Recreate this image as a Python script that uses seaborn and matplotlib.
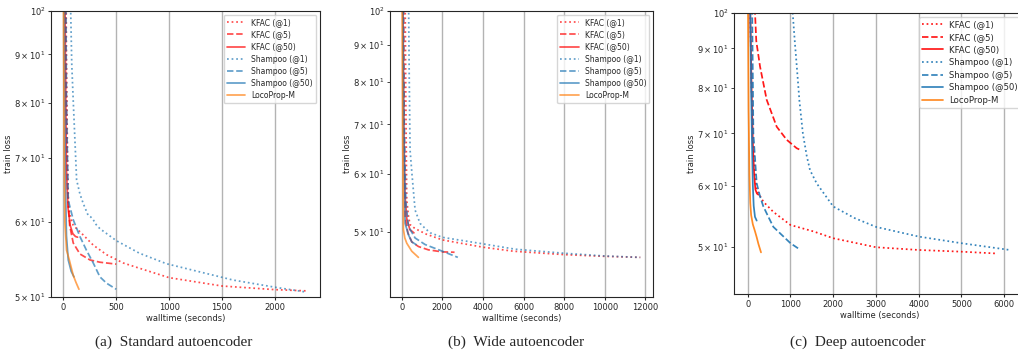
import seaborn as sns
import matplotlib.pyplot as plt

# legend labels, in the order they are drawn
LABELS = ["KFAC (@1)", "KFAC (@5)", "KFAC (@50)",
          "Shampoo (@1)", "Shampoo (@5)", "Shampoo (@50)", "LocoProp-M"]

# (a) standard autoencoder: walltime (s), train loss
std_kfac1_t = [22, 30, 40, 50, 70, 94, 189, 283, 409, 566, 722, 1000, 1500, 2000, 2300]
std_kfac1_l = [130, 90, 70, 62, 60.5, 59.5, 58.1, 56.7, 55.4, 54.3, 53.6, 52.4, 51.35, 50.9, 50.75]
std_kfac5_t = [15, 25, 40, 60, 94, 157, 252, 346, 500]
std_kfac5_l = [130, 85, 65, 59.5, 57.0, 55.5, 54.7, 54.4, 54.15]
std_kfac50_t = [10, 20, 30, 45, 65, 90, 115, 135]
std_kfac50_l = [130, 90, 68, 62, 59.5, 58.3, 57.9, 57.8]
std_sh1_t = [62, 70, 80, 94, 126, 157, 189, 236, 260, 283, 310, 346, 503, 719, 975, 1604, 2000, 2296]
std_sh1_l = [130, 100, 88, 80.5, 66.4, 64.2, 62.7, 60.9, 60.7, 60.3, 59.6, 59.0, 57.3, 55.6, 54.2, 52.1, 51.2, 50.6]
std_sh5_t = [20, 30, 47, 94, 157, 219, 283, 346, 409, 500]
std_sh5_l = [130, 80, 63.2, 60.3, 57.9, 56.0, 54.3, 52.5, 51.7, 50.95]
std_sh50_t = [5, 12, 20, 30, 47, 75, 101]
std_sh50_l = [130, 85, 66, 58, 54.7, 53.2, 52.5]
std_loco_t = [0, 3, 8, 15, 31, 57, 94, 120, 148]
std_loco_l = [140, 95, 72, 60, 56, 54.7, 52.7, 51.8, 50.95]

# (b) wide autoencoder
wide_kfac1_t = [150, 170, 200, 246, 330, 409, 600, 821, 1200, 2000, 4000, 5500, 8000, 10000, 11750]
wide_kfac1_l = [150, 100, 75, 55.2, 52.5, 51.1, 50.6, 50.2, 49.6, 48.7, 47.6, 47.0, 46.5, 46.25, 46.1]
wide_kfac5_t = [60, 90, 120, 163, 300, 493, 821, 1315, 2000, 2600]
wide_kfac5_l = [150, 100, 70, 52.4, 49.8, 48.4, 47.7, 47.2, 46.9, 46.85]
wide_kfac50_t = [30, 60, 100, 160, 250, 400, 600]
wide_kfac50_l = [150, 100, 70, 56, 52, 50.3, 49.8]
wide_sh1_t = [320, 340, 370, 409, 500, 656, 900, 1149, 1400, 2000, 4000, 5587, 8000, 10000, 11750]
wide_sh1_l = [120, 100, 80, 64.6, 60, 53.5, 51.3, 50.5, 49.8, 49.1, 48.1, 47.3, 46.7, 46.3, 46.1]
wide_sh5_t = [50, 80, 120, 200, 328, 656, 1149, 2000, 2762]
wide_sh5_l = [150, 100, 70, 55, 50.8, 49.0, 48.0, 47.0, 46.1]
wide_sh50_t = [20, 50, 90, 164, 328, 493, 700]
wide_sh50_l = [150, 100, 70, 51.3, 49.5, 48.4, 48.0]
wide_loco_t = [0, 20, 50, 82, 150, 246, 493, 821]
wide_loco_l = [150, 100, 65, 50.3, 49.0, 48.2, 47.0, 46.1]

# (c) deep autoencoder
deep_kfac1_t = [40, 60, 90, 130, 170, 210, 366, 600, 1000, 1535, 2000, 3000, 4000, 5000, 5780]
deep_kfac1_l = [140, 100, 80, 68, 62, 59.2, 57.2, 55.5, 53.4, 52.4, 51.35, 50.0, 49.6, 49.35, 49.1]
deep_kfac5_t = [150, 171, 200, 288, 444, 678, 911, 1145, 1223]
deep_kfac5_l = [130, 100, 92, 85.3, 77.3, 71.4, 68.7, 67.0, 66.7]
deep_kfac50_t = [30, 60, 90, 120, 150, 180, 215, 250]
deep_kfac50_l = [150, 100, 80, 68, 62, 59.3, 58.6, 58.4]
deep_sh1_t = [1000, 1040, 1100, 1150, 1210, 1290, 1380, 1457, 1612, 2000, 2500, 3000, 4000, 5000, 6130]
deep_sh1_l = [130, 102, 92, 85, 77, 70, 65.5, 62.8, 60.4, 56.4, 54.5, 53.1, 51.6, 50.6, 49.6]
deep_sh5_t = [90, 105, 132, 210, 288, 366, 483, 600, 1000, 1223]
deep_sh5_l = [150, 100, 70, 60.4, 58.1, 56.4, 54.7, 53.1, 50.6, 49.65]
deep_sh50_t = [40, 60, 80, 100, 120, 140, 170, 210]
deep_sh50_l = [150, 100, 80, 68, 60, 56.5, 54.7, 54.1]
deep_loco_t = [0, 8, 20, 40, 60, 80, 120, 171, 210, 250, 311]
deep_loco_l = [150, 100, 75, 62, 57, 55, 53.5, 52.4, 51.5, 50.5, 49.25]

COLORS = ["red", "red", "red", "tab:blue", "tab:blue", "tab:blue", "tab:orange"]
STYLES = [":", "--", "-", ":", "--", "-", "-"]


def draw_panel(ax, series, xlim, ylim, xticks, alpha, legend_size):
    for (t, loss), label, color, ls in zip(series, LABELS, COLORS, STYLES):
        sns.lineplot(x=t, y=loss, ax=ax, color=color, linestyle=ls,
                     linewidth=1.25, alpha=alpha, label=label)
    ax.set_yscale("log")
    ax.set_ylim(*ylim)
    ax.set_xlim(*xlim)
    ax.set_xticks(xticks)
    ax.grid(axis="x", color="0.7", linewidth=1.0)
    ax.tick_params(labelsize=6, which="both", length=2.5, pad=1.5)
    ax.set_xlabel("walltime (seconds)", fontsize=6, labelpad=2)
    ax.set_ylabel("train loss", fontsize=6, labelpad=1)
    ax.legend(fontsize=legend_size, loc="upper right", handlelength=2.4,
              labelspacing=0.42)


sns.set_style("ticks")
plt.rcParams["font.family"] = ["DejaVu Sans"]

fig = plt.figure(figsize=(10.18, 3.56), dpi=100)
ax1 = fig.add_axes([0.0501, 0.1657, 0.2642, 0.8034])
ax2 = fig.add_axes([0.3831, 0.1657, 0.2586, 0.8034])
ax3 = fig.add_axes([0.7213, 0.1742, 0.2862, 0.7901])

draw_panel(ax1,
           [(std_kfac1_t, std_kfac1_l), (std_kfac5_t, std_kfac5_l), (std_kfac50_t, std_kfac50_l),
            (std_sh1_t, std_sh1_l), (std_sh5_t, std_sh5_l), (std_sh50_t, std_sh50_l),
            (std_loco_t, std_loco_l)],
           (-116, 2425), (50, 100), [0, 500, 1000, 1500, 2000], 0.7, 5.5)
draw_panel(ax2,
           [(wide_kfac1_t, wide_kfac1_l), (wide_kfac5_t, wide_kfac5_l), (wide_kfac50_t, wide_kfac50_l),
            (wide_sh1_t, wide_sh1_l), (wide_sh5_t, wide_sh5_l), (wide_sh50_t, wide_sh50_l),
            (wide_loco_t, wide_loco_l)],
           (-580, 12390), (40.7, 100), [0, 2000, 4000, 6000, 8000, 10000, 12000], 0.7, 5.5)
draw_panel(ax3,
           [(deep_kfac1_t, deep_kfac1_l), (deep_kfac5_t, deep_kfac5_l), (deep_kfac50_t, deep_kfac50_l),
            (deep_sh1_t, deep_sh1_l), (deep_sh5_t, deep_sh5_l), (deep_sh50_t, deep_sh50_l),
            (deep_loco_t, deep_loco_l)],
           (-314, 6500), (43.55, 100), [0, 1000, 2000, 3000, 4000, 5000, 6000], 0.9, 6.1)

captions = ["(a)  Standard autoencoder", "(b)  Wide autoencoder", "(c)  Deep autoencoder"]
for cx, text in zip([174, 516, 858], captions):
    fig.text(cx / 1018, 1 - 342 / 356, text, ha="center", va="center",
             family="Liberation Serif", fontsize=11)

fig.savefig("out.png", dpi=100)
